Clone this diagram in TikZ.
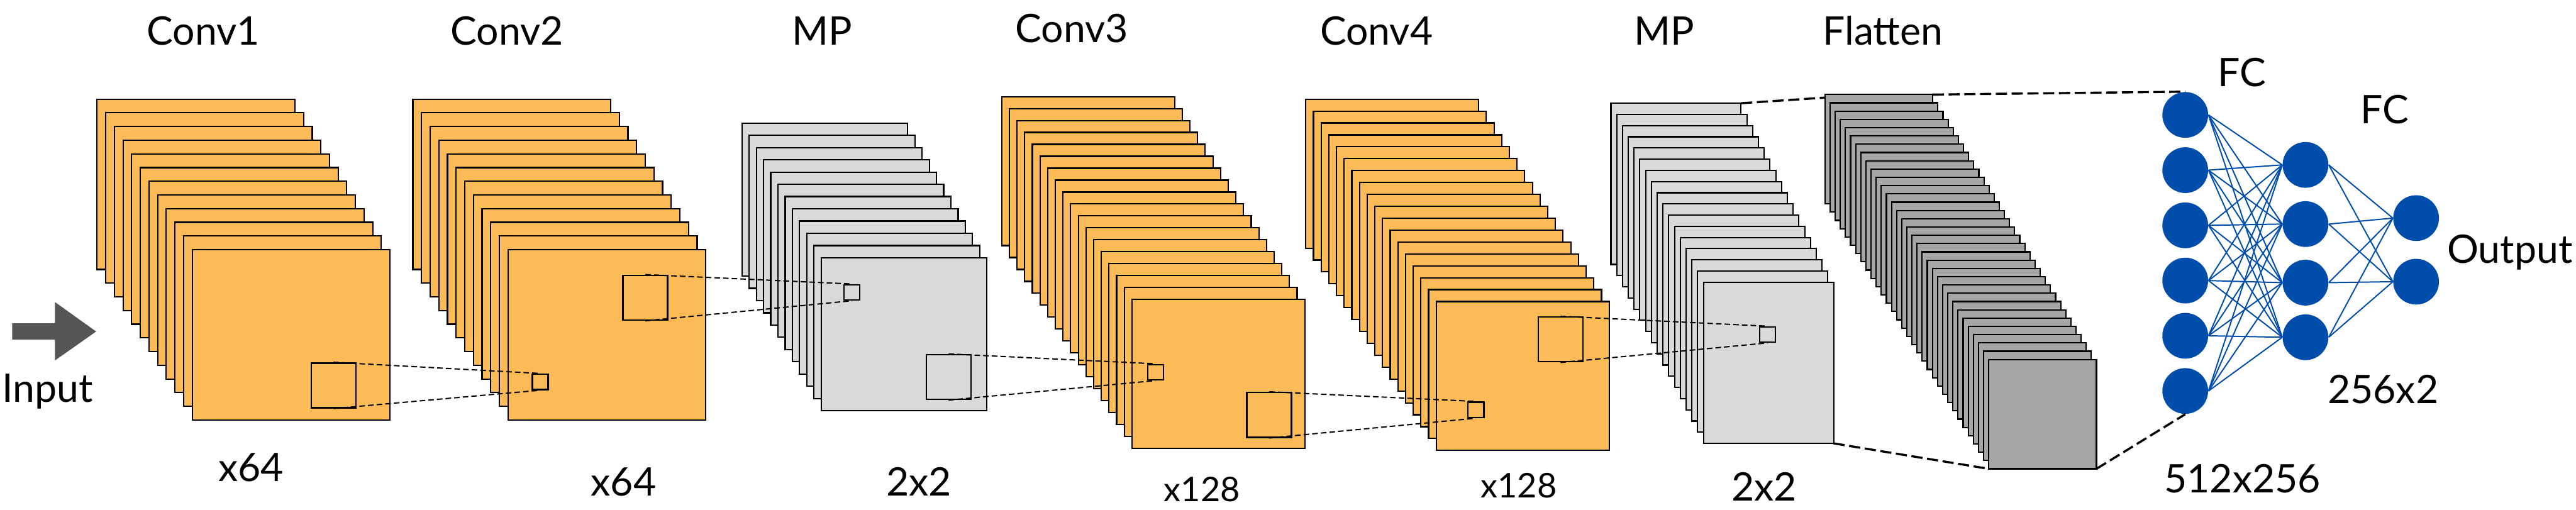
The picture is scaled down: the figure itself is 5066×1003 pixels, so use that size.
\documentclass[tikz,border=0pt]{standalone}
\usepackage{fontspec}
\setmainfont{Lato}
\definecolor{convorange}{HTML}{FDBB58}
\definecolor{mpgray}{HTML}{D9D9D9}
\definecolor{flatgray}{HTML}{A6A6A6}
\definecolor{arrowgray}{HTML}{555555}
\definecolor{nnblue}{HTML}{004DAB}
\newcommand\drawstack[8]{%
  \foreach \i in {0,...,#5}
    \draw[#8] ({#1+\i*#3},{#2+\i*#4}) rectangle ++(#6,#7);}
\begin{document}
\begin{tikzpicture}[x=0.1mm,y=-0.1mm,
  sheet/.style={draw=black, line width=0.75pt},
  sheetO/.style={sheet, fill=convorange},
  sheetL/.style={sheet, fill=mpgray},
  sheetD/.style={sheet, fill=flatgray},
  bigsq/.style={draw, line width=0.85pt, minimum width=8.8mm, minimum height=8.8mm, inner sep=0pt},
  smallsq/.style={draw, line width=0.85pt, minimum width=3.1mm, minimum height=3.0mm, inner sep=0pt},
  proj/.style={draw, line width=0.7pt, dash pattern=on 1.1mm off 0.6mm},
  flat/.style={draw, line width=1.2pt, dash pattern=on 2.2mm off 0.9mm},
  neuron/.style={circle, fill=nnblue, minimum size=9mm, inner sep=0pt},
  syn/.style={draw=nnblue, line width=0.7pt},
  lbl/.style={font=\fontsize{22}{26}\selectfont, inner sep=0pt, anchor=base},
  lblsm/.style={lbl, font=\fontsize{19}{23}\selectfont}]
\useasboundingbox (0,0) rectangle (5066,1003);

% input arrow
\fill[arrowgray] (24,636) -- (108,636) -- (108,594) -- (189,652) -- (108,709) -- (108,668) -- (24,668) -- cycle;

% stacks
\drawstack{191}{195}{17}{26.909}{11}{389}{335}{sheetO}
\drawstack{812}{195}{17}{26.909}{11}{389}{335}{sheetO}
\drawstack{1459}{242}{14.18}{24.09}{11}{326}{301}{sheetL}
\drawstack{1970}{190}{15.06}{23.47}{17}{340}{293}{sheetO}
\drawstack{2568}{195}{15.09}{23.41}{17}{340}{293}{sheetO}
\drawstack{3168}{203}{11.375}{22}{16}{256}{317}{sheetL}
\drawstack{3589}{186}{10.06}{16.28}{32}{212}{215}{sheetD}

% receptive-field squares
\node[bigsq] (s1) at (656,758) {};
\node[smallsq] (s2s) at (1062.5,751) {};
\node[bigsq] (s2b) at (1269,585.5) {};
\node[smallsq] (s3s) at (1675.5,575) {};
\node[bigsq] (s3b) at (1865.5,741.5) {};
\node[smallsq] (s4s) at (2272.5,732) {};
\node[bigsq] (s4b) at (2496,816) {};
\node[smallsq] (s5s) at (2902.5,806) {};
\node[bigsq] (s5b) at (3069,667.5) {};
\node[smallsq] (s6s) at (3476,658) {};

\draw[proj] (s1.north) -- (s2s.north);
\draw[proj] (s1.south) -- (s2s.south);
\draw[proj] (s2b.north) -- (s3s.north);
\draw[proj] (s2b.south) -- (s3s.south);
\draw[proj] (s3b.north) -- (s4s.north);
\draw[proj] (s3b.south) -- (s4s.south);
\draw[proj] (s4b.north) -- (s5s.north);
\draw[proj] (s4b.south) -- (s5s.south);
\draw[proj] (s5b.north) -- (s6s.north);
\draw[proj] (s5b.south) -- (s6s.south);

% fully connected layers
\foreach \y [count=\i] in {226,334.6,443.2,551.8,660.4,769}
  \node[neuron] (a\i) at (4297.5,\y) {};
\foreach \y [count=\i] in {324.3,440.7,555.9,663.3}
  \node[neuron] (b\i) at (4534,\y) {};
\foreach \y [count=\i] in {429,554}
  \node[neuron] (c\i) at (4751.5,\y) {};
\foreach \i in {1,...,6}
  \foreach \j in {1,...,4}
    \draw[syn] (a\i.east) -- (b\j.west);
\foreach \i in {1,...,4}
  \foreach \j in {1,2}
    \draw[syn] (b\i.east) -- (c\j.west);

% flatten projection lines
\coordinate (mpne) at (3424,203);
\coordinate (mpse) at (3606,872);
\coordinate (flnw) at (3589,192);
\coordinate (flsw) at (3911,922);
\coordinate (flne) at (3801,186);
\coordinate (flse) at (4123,922);
\draw[flat] (mpne) -- (flnw);
\draw[flat] (mpse) -- (flsw);
\draw[flat] (flne) -- (a1.north);
\draw[flat] (flse) -- (a6.south);

% labels
\node[lbl] (tc1) at (400,89) {Conv1};
\node[lbl] (tc2) at (997,89) {Conv2};
\node[lbl] (tmp1) at (1616.5,88) {MP};
\node[lbl] (tc3) at (2108,83) {Conv3};
\node[lbl] (tc4) at (2707,88) {Conv4};
\node[lbl] (tmp2) at (3272.5,88) {MP};
\node[lbl] (tfl) at (3703,88) {Flatten};
\node[lbl] (tfc1) at (4409.5,169.5) {FC};
\node[lbl] (tfc2) at (4690,243) {FC};
\node[lbl] (tout) at (4936,518) {Output};
\node[lbl] (tin) at (93.5,791) {Input};
\node[lbl] (b1) at (494,947) {x64};
\node[lbl] (b2) at (1226.5,975.5) {x64};
\node[lbl] (b3) at (1807,975.5) {2x2};
\node[lblsm] (b4) at (2364,986) {x128};
\node[lblsm] (b5) at (2987,979) {x128};
\node[lbl] (b6) at (3469.5,985) {2x2};
\node[lbl] (b7) at (4410,969) {512x256};
\node[lbl] (b8) at (4686.5,793) {256x2};
\end{tikzpicture}
\end{document}
